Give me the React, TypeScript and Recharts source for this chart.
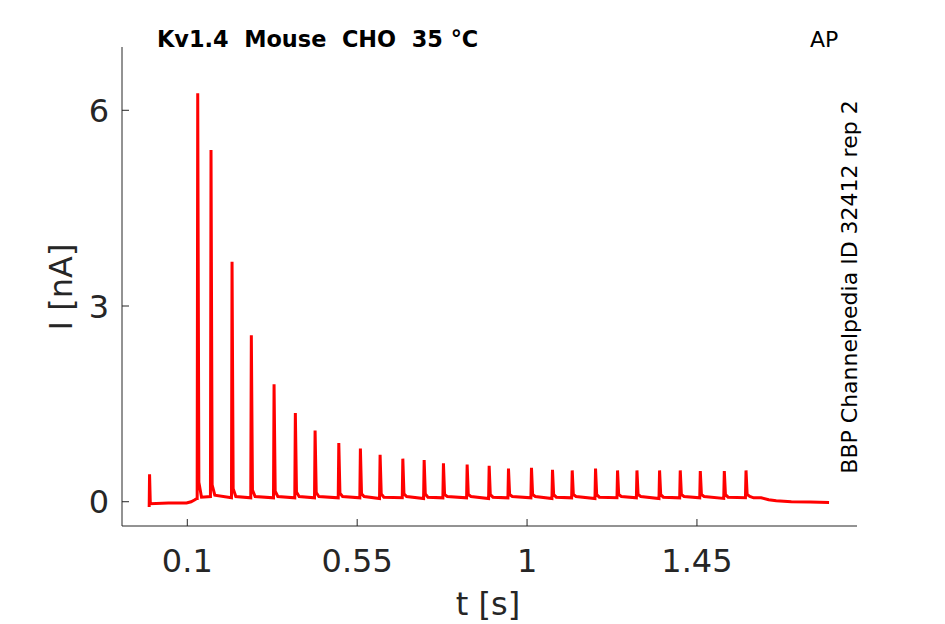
import React from 'react';
import { LineChart, Line, XAxis, YAxis } from 'recharts';

// spike train
const spikeTimes = [
  0.1276, 0.1628, 0.2185, 0.2696, 0.3298, 0.3862, 0.4385, 0.5013, 0.5585, 0.6107, 0.6709, 0.7274, 0.7785, 0.8413,
  0.8996, 0.9508, 1.0117, 1.0674, 1.1196, 1.1814, 1.2397, 1.2911, 1.351, 1.4058, 1.4589, 1.5225, 1.58,
];
const spikePeaks = [
  6.26, 5.39, 3.68, 2.55, 1.8, 1.36, 1.09, 0.9, 0.815, 0.72, 0.66, 0.64, 0.59, 0.57, 0.55, 0.51, 0.52, 0.49, 0.48,
  0.51, 0.48, 0.48, 0.48, 0.48, 0.47, 0.47, 0.48,
];
const spikeTails = [
  0.3, 0.26, 0.2, 0.18, 0.16, 0.15, 0.14, 0.13, 0.12, 0.12, 0.12, 0.12, 0.11, 0.11, 0.11, 0.11, 0.11, 0.11, 0.11,
  0.11, 0.11, 0.11, 0.11, 0.11, 0.11, 0.11, 0.11,
];
const spikeBase = [
  0.05, 0.08, 0.06, 0.06, 0.06, 0.06, 0.06, 0.06, 0.06, 0.05, 0.06, 0.05, 0.06, 0.06, 0.05, 0.06, 0.06, 0.05, 0.06,
  0.05, 0.06, 0.06, 0.05, 0.06, 0.06, 0.05, 0.06,
];

// before the train (artifact + holding)
const startTimes = [-0.001, 0.0, 0.002, 0.05, 0.098, 0.11, 0.12, 0.125];
const startValues = [-0.08, 0.42, -0.03, -0.02, -0.02, 0.0, 0.03, 0.05];

// after the train
const endTimes = [1.6, 1.62, 1.64, 1.66, 1.7, 1.75, 1.8];
const endValues = [0.06, 0.06, 0.03, 0.015, 0.0, -0.005, -0.01];

const xTicks = [0.1, 0.55, 1, 1.45];
const yTicks = [0, 3, 6];

const data: { t: number; i: number }[] = [];
startTimes.forEach((t, k) => data.push({ t, i: startValues[k] }));
spikeTimes.forEach((t, k) => {
  data.push({ t: t - 0.0015, i: spikeBase[k] });
  data.push({ t, i: spikePeaks[k] });
  data.push({ t: t + 0.003, i: spikeTails[k] });
  data.push({ t: t + 0.01, i: spikeBase[k] + 0.02 });
});
endTimes.forEach((t, k) => data.push({ t, i: endValues[k] }));

const AXIS = '#262626';
const FONT = '"DejaVu Sans", sans-serif';

const XTick = ({ x, y, payload }: any) => (
  <g>
    <line x1={x} x2={x} y1={y} y2={y - 7} stroke={AXIS} strokeWidth={1} />
    <text x={x} y={y + 46} textAnchor="middle" fill={AXIS} fontSize={32} fontFamily={FONT}>
      {String(payload.value)}
    </text>
  </g>
);

const YTick = ({ x, y, payload }: any) => (
  <g>
    <line x1={x} x2={x + 7} y1={y} y2={y} stroke={AXIS} strokeWidth={1} />
    <text x={x - 13} y={y} dy="0.36em" textAnchor="end" fill={AXIS} fontSize={32} fontFamily={FONT}>
      {String(payload.value)}
    </text>
  </g>
);

export default function App() {
  return (
    <div style={{ position: 'absolute', left: 0, top: 0, width: 945, height: 624, background: '#fff' }}>
      <LineChart width={945} height={624} data={data} margin={{ top: 47, right: 88, bottom: 38, left: 62 }}>
        <XAxis
          dataKey="t"
          type="number"
          domain={[-0.073, 1.874]}
          ticks={xTicks}
          allowDataOverflow
          height={60}
          tickSize={0}
          tickMargin={0}
          tick={<XTick />}
          axisLine={{ stroke: AXIS }}
          tickLine={false}
        />
        <YAxis
          type="number"
          domain={[-0.372, 6.97]}
          ticks={yTicks}
          allowDataOverflow
          width={60}
          tickSize={0}
          tickMargin={0}
          tick={<YTick />}
          axisLine={{ stroke: AXIS }}
          tickLine={false}
        />
        <Line
          dataKey="i"
          type="linear"
          stroke="#ff0000"
          strokeWidth={3}
          dot={false}
          isAnimationActive={false}
        />
      </LineChart>
      <svg
        width={945}
        height={624}
        style={{ position: 'absolute', left: 0, top: 0, pointerEvents: 'none', whiteSpace: 'pre' }}
        fontFamily={FONT}
      >
        <text x={157} y={47} fontSize={22.4} fontWeight="bold" fill="#000" xmlSpace="preserve">
          {'Kv1.4  Mouse  CHO  35 °C'}
        </text>
        <text x={810} y={47} fontSize={22} fill="#000">
          AP
        </text>
        <text x={488} y={615} textAnchor="middle" fontSize={32} fill={AXIS}>
          t [s]
        </text>
        <text x={72} y={287} textAnchor="middle" fontSize={32} fill={AXIS} transform="rotate(-90 72 287)">
          I [nA]
        </text>
        <text x={857} y={287} textAnchor="middle" fontSize={22} fill="#000" transform="rotate(-90 857 287)">
          BBP Channelpedia ID 32412 rep 2
        </text>
      </svg>
    </div>
  );
}
